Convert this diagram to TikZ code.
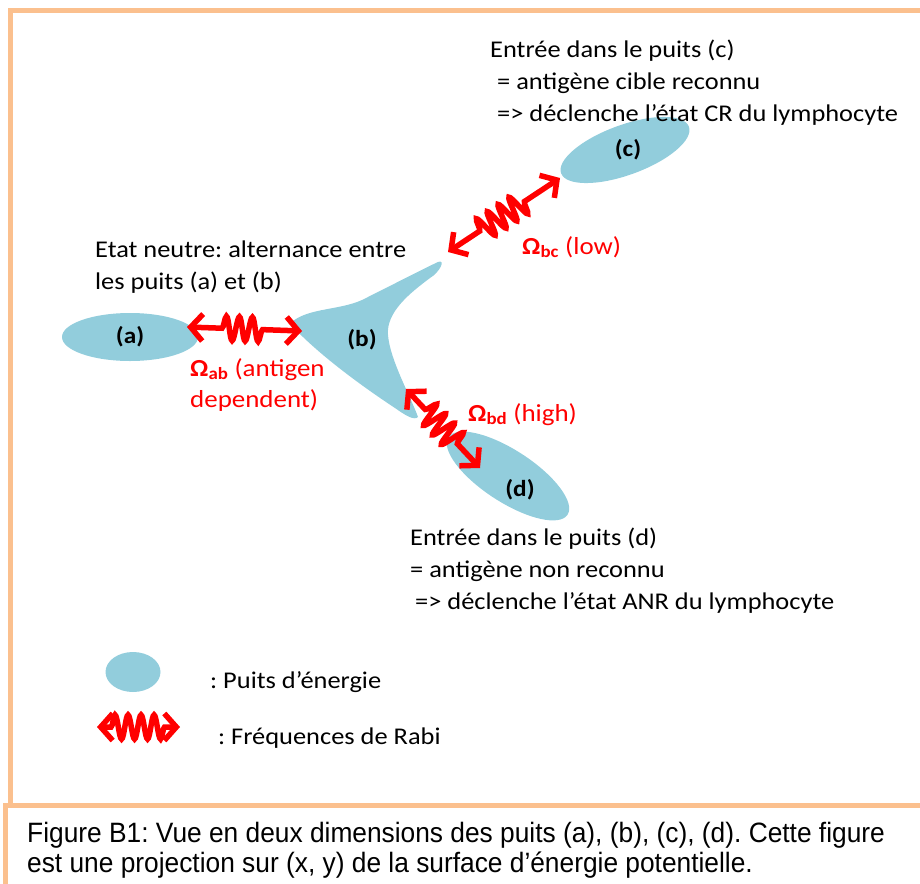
\documentclass[tikz,border=0pt]{standalone}
\usepackage{fontspec}
\setmainfont{Carlito}[FakeStretch=1.1]
\newfontfamily\capfont[FakeStretch=0.94]{Liberation Sans}
\usetikzlibrary{positioning, arrows.meta, shapes.geometric, decorations.pathmorphing}
\definecolor{peach}{RGB}{251,192,142}
\definecolor{wellblue}{RGB}{146,205,220}
\newcommand{\Om}[1]{\textbf{Ω\textsubscript{#1}}}
\frenchspacing

\begin{document}
\begin{tikzpicture}[
    x=1pt, y=-1pt,
    well/.style={ellipse, fill=wellblue, draw=none, inner sep=0pt},
    lbl/.style={font=\fontsize{23}{23}\selectfont\bfseries, inner sep=0pt},
    note/.style={anchor=base west, inner sep=0pt, font=\fontsize{24}{32}\selectfont},
    freq/.style={anchor=base west, inner sep=0pt, text=red, font=\fontsize{24.5}{32}\selectfont},
    rabi/.style={draw=red, line width=5.5pt,
        {Straight Barb[length=12pt,width=27pt,line width=5.5pt]}-{Straight Barb[length=12pt,width=27pt,line width=5.5pt]},
        decorate, decoration={snake, segment length=13pt, amplitude=12pt, pre length=#1, post length=#1}},
    rabi/.default=30pt,
    frame/.style={draw=peach, line width=5pt},
    caption/.style={anchor=base west, inner sep=0pt, font=\capfont\fontsize{28}{30}\selectfont}
]
\useasboundingbox (0,0) rectangle (920,883);

% frames
\draw[frame] (10.5,805) -- (10.5,11) -- (925,11);
\draw[frame] (5.5,890) -- (5.5,805) -- (925,805);

% energy wells
\node[well, minimum width=136pt, minimum height=48pt] (wella) at (130,337) {};
\node[well, minimum width=136pt, minimum height=50pt, rotate=20] (wellc) at (625,150) {};
\node[well, minimum width=142pt, minimum height=52pt, rotate=-33] (welld) at (508,476) {};
\fill[wellblue] (293,321) .. controls (310,308) and (340,310) .. (362,300)
    .. controls (392,285) and (425,268) .. (438,262)
    .. controls (446,259) and (440,272) .. (430,278)
    .. controls (410,293) and (386,312) .. (388,335)
    .. controls (390,360) and (410,395) .. (418,417)
    .. controls (414,421) and (405,415) .. (395,408)
    .. controls (360,385) and (320,355) .. (296,330)
    .. controls (290,326) and (290,323) .. cycle;
\coordinate (wellb) at (362,340);

\node[lbl] (la) at (wella) {(a)};
\node[lbl] (lb) at (wellb) {(b)};
\node[lbl] (lc) at (628,150) {(c)};
\node[lbl] (ld) at (520,490) {(d)};

% Rabi frequencies
\coordinate (ab1) at (187,327);
\coordinate (ab2) at (302,331);
\coordinate (bc1) at (448,252);
\coordinate (bc2) at (560,178);
\coordinate (bd1) at (406,389);
\coordinate (bd2) at (480,468);
\draw[rabi=35pt] (ab1) -- (ab2);
\draw[rabi=38pt] (bc1) -- (bc2);
\draw[rabi=28pt] (bd1) -- (bd2);

\node[freq] (fab) at (190,376) {\Om{ab} (antigen};
\node[freq] (fab2) at (190,407) {dependent)};
\node[freq] (fbc) at (522,254) {\Om{bc} (low)};
\node[freq] (fbd) at (468,421) {\Om{bd} (high)};

% comments on the wells
\node[note] (c1) at (490,57) {Entrée dans le puits (c)};
\node[note] (c2) at (497,89) {= antigène cible reconnu};
\node[note] (c3) at (497,121) {=> déclenche l’état CR du lymphocyte};
\node[note] (n1) at (95,257) {Etat neutre: alternance entre};
\node[note] (n2) at (95,289) {les puits (a) et (b)};
\node[note] (d1) at (410,545) {Entrée dans le puits (d)};
\node[note] (d2) at (410,577) {= antigène non reconnu};
\node[note] (d3) at (415,609) {=> déclenche l’état ANR du lymphocyte};

% legend
\node[well, minimum width=55pt, minimum height=40pt] (keywell) at (133,672) {};
\node[note] (kw) at (210,688) {: Puits d’énergie};
\coordinate (k1) at (97,727);
\coordinate (k2) at (180,727);
\draw[rabi=14pt] (k1) -- (k2);
\node[note] (kf) at (218,744) {: Fréquences de Rabi};

% caption
\node[caption] (cap1) at (27,842) {Figure B1: Vue en deux dimensions des puits (a), (b), (c), (d). Cette figure};
\node[caption] (cap2) at (27,872) {est une projection sur (x, y) de la surface d’énergie potentielle.};
\end{tikzpicture}
\end{document}
